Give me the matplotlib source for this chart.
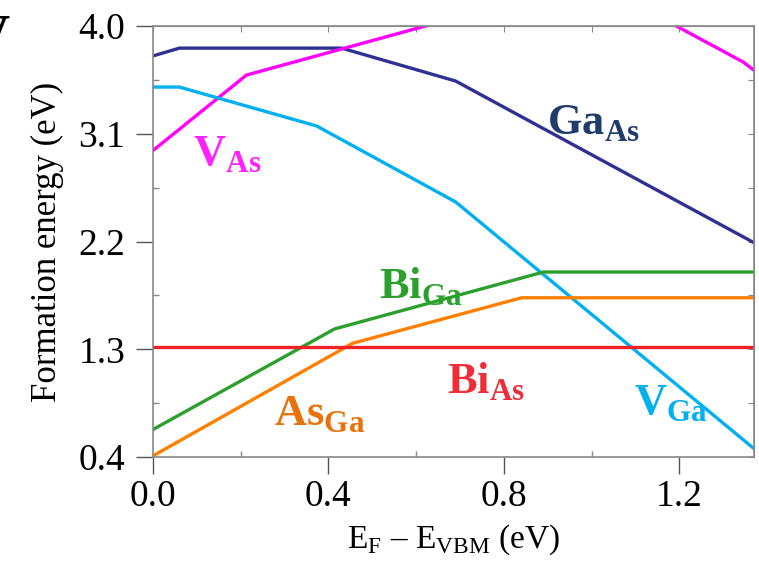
import matplotlib.pyplot as plt
from matplotlib.ticker import MultipleLocator, FixedLocator

plt.rcParams['font.family'] = 'Liberation Serif'
plt.rcParams['mathtext.fontset'] = 'custom'
plt.rcParams['mathtext.rm'] = 'Liberation Serif'
plt.rcParams['mathtext.bf'] = 'Liberation Serif:bold'

# Fermi level (eV) and formation energies (eV) at the kinks of each defect line
ef_ga_as = [0.0, 0.06, 0.43, 0.69, 1.37]
e_ga_as = [3.75, 3.815, 3.815, 3.54, 2.19]

ef_v_as = [0.0, 0.213, 1.0, 1.345, 1.37]
e_v_as = [2.96, 3.59, 4.38, 3.70, 3.63]

ef_v_ga = [0.0, 0.06, 0.373, 0.69, 1.37]
e_v_ga = [3.49, 3.49, 3.165, 2.53, 0.47]

ef_bi_ga = [0.0, 0.414, 0.89, 1.37]
e_bi_ga = [0.63, 1.47, 1.945, 1.945]

ef_as_ga = [0.0, 0.455, 0.84, 1.37]
e_as_ga = [0.41, 1.35, 1.73, 1.73]

ef_bi_as = [0.0, 1.37]
e_bi_as = [1.32, 1.32]

fig = plt.figure(figsize=(7.59, 5.71), dpi=100)
ax = fig.add_axes([0.2016, 0.1996, 0.7918, 0.7549])

lw = 2.4
ax.plot(ef_ga_as, e_ga_as, color='#2e3192', lw=lw)
ax.plot(ef_v_as, e_v_as, color='#ff00ff', lw=lw)
ax.plot(ef_v_ga, e_v_ga, color='#00b0f0', lw=lw)
ax.plot(ef_bi_ga, e_bi_ga, color='#2ca02c', lw=lw)
ax.plot(ef_as_ga, e_as_ga, color='#ff8000', lw=lw)
ax.plot(ef_bi_as, e_bi_as, color='#ee2028', lw=lw)

ax.set_xlim(0, 1.37)
ax.set_ylim(0.4, 4.0)

ax.xaxis.set_major_locator(FixedLocator([0.0, 0.4, 0.8, 1.2]))
ax.xaxis.set_minor_locator(MultipleLocator(0.2))
ax.yaxis.set_major_locator(FixedLocator([0.4, 1.3, 2.2, 3.1, 4.0]))
ax.yaxis.set_minor_locator(FixedLocator([0.85, 1.75, 2.65, 3.55]))
ax.xaxis.set_major_formatter(lambda v, p: f'{v:.1f}')
ax.yaxis.set_major_formatter(lambda v, p: f'{v:.1f}')

ax.tick_params(which='major', direction='out', length=12, width=1, color='#555555',
               labelsize=27)
ax.tick_params(axis='y', which='major', pad=8)
ax.tick_params(axis='x', which='major', pad=4)
ax.tick_params(which='minor', direction='in', length=4, width=1, color='#888888')

for s in ax.spines.values():
    s.set_color('#888888')
    s.set_linewidth(1.2)

top = ax.secondary_xaxis('top')
top.xaxis.set_major_locator(MultipleLocator(0.2))
top.tick_params(direction='in', length=4, color='#888888', labeltop=False)
top.spines['top'].set_color('#888888')
right = ax.secondary_yaxis('right')
right.yaxis.set_major_locator(FixedLocator([0.4, 0.85, 1.3, 1.75, 2.2, 2.65, 3.1, 3.55, 4.0]))
right.tick_params(direction='in', length=4, color='#888888', labelright=False)
right.spines['right'].set_color('#888888')

ax.set_ylabel('Formation energy (eV)', fontsize=25, labelpad=10)
ax.set_xlabel(r'E$_\mathrm{F}$ – E$_\mathrm{VBM}$ (eV)', fontsize=24, labelpad=6)

lab = dict(fontsize=32, ha='center', va='center', transform=ax.transData)
ax.text(0.17, 2.92, r'$\mathbf{V}_{\mathbf{As}}$', color='#ff22ff', **lab)
ax.text(1.005, 3.18, r'$\mathbf{Ga}_{\mathbf{As}}$', color='#1f3c6b', **lab)
ax.text(0.61, 1.825, r'$\mathbf{Bi}_{\mathbf{Ga}}$', color='#2ca02c', **lab)
ax.text(0.38, 0.75, r'$\mathbf{As}_{\mathbf{Ga}}$', color='#e8730c', **lab)
ax.text(0.76, 1.03, r'$\mathbf{Bi}_{\mathbf{As}}$', color='#ee2f3a', **lab)
ax.text(1.18, 0.845, r'$\mathbf{V}_{\mathbf{Ga}}$', color='#00b0f0', **lab)

fig.text(-0.04, 0.93, 'V', fontsize=40, fontweight='bold', ha='left', va='center')

fig.savefig('out.png', dpi=100)
